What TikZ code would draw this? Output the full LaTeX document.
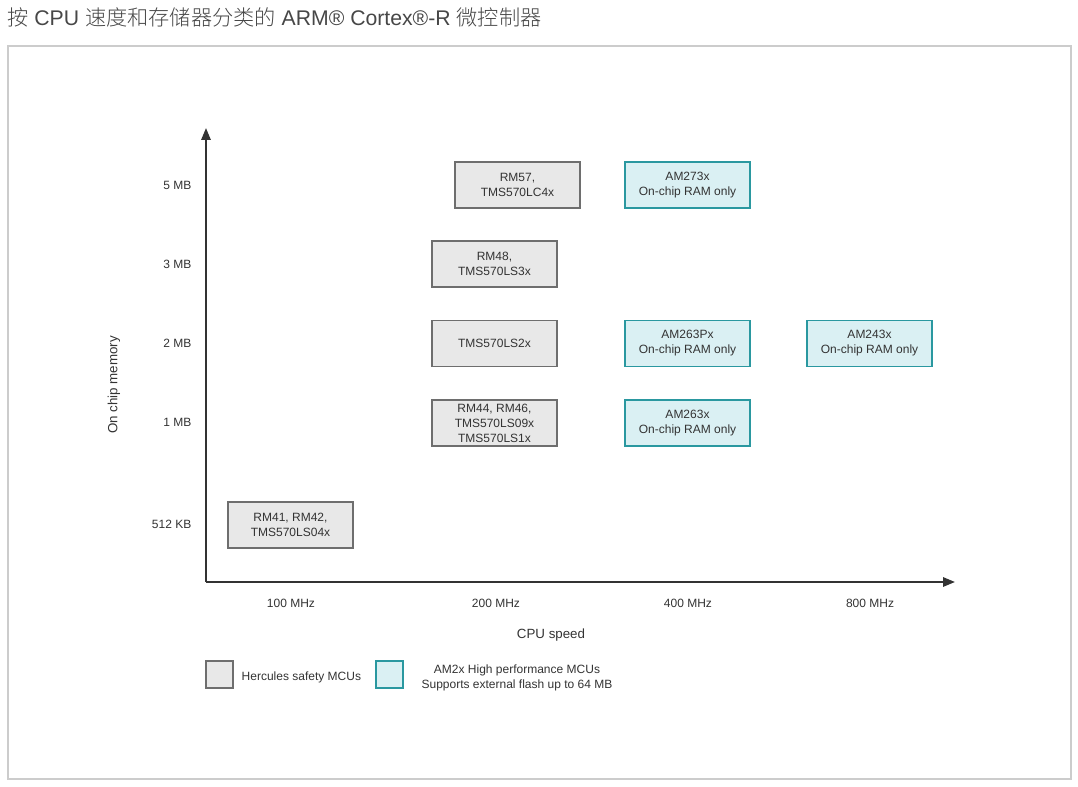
\documentclass[tikz,border=0pt]{standalone}
\usepackage{fontspec}
\setmainfont{Liberation Sans}
\newfontfamily\cjk{Noto Sans CJK SC Light}
\usetikzlibrary{arrows.meta}
\definecolor{txt}{HTML}{333333}
\definecolor{grayfill}{HTML}{E8E8E8}
\definecolor{grayline}{HTML}{6E6E6E}
\definecolor{tealfill}{HTML}{DAF0F3}
\definecolor{tealline}{HTML}{2A98A0}
\definecolor{frame}{HTML}{CCCCCC}
\tikzset{
  herc/.style={draw=grayline, fill=grayfill, line width=1pt, minimum width=125*0.75pt, minimum height=46*0.75pt, inner sep=0pt, align=center, font=\fontsize{9}{11.25}\selectfont, text=txt},
  amx/.style={herc, draw=tealline, fill=tealfill},
  axlab/.style={font=\fontsize{9}{11}\selectfont, text=txt},
  axis/.style={draw=txt, line width=1.5pt, -{Triangle[length=9pt,width=7pt]}},
}
\begin{document}
\begin{tikzpicture}[x=0.75pt,y=-0.75pt]
\useasboundingbox (0,0) rectangle (1078,787);
\node[anchor=west, inner sep=0pt, text=txt!90, font=\fontsize{15.9}{18}\selectfont] (title) at (7,17) {{\cjk 按} CPU {\cjk 速度和存储器分类的} ARM® Cortex®-R {\cjk 微控制器}};
\draw[frame, line width=0.8pt] (8,46) rectangle (1071,779);
\coordinate (O) at (206,582);
\coordinate (ytop) at (206,128);
\coordinate (xend) at (955,582);
\draw[axis] (O) -- (ytop);
\draw[axis] (O) -- (xend);
% boxes
\node[herc] (rm57) at (517.5,185) {RM57,\\TMS570LC4x};
\node[amx] (am273) at (687.5,185) {AM273x\\On-chip RAM only};
\node[herc] (rm48) at (494.5,264) {RM48,\\TMS570LS3x};
\node[herc] (ls2x) at (494.5,343.5) {TMS570LS2x};
\node[amx] (am263p) at (687.5,343.5) {AM263Px\\On-chip RAM only};
\node[amx] (am243) at (869.5,343.5) {AM243x\\On-chip RAM only};
\node[herc] (rm44) at (494.5,423) {RM44, RM46,\\TMS570LS09x\\TMS570LS1x};
\node[amx] (am263) at (687.5,423) {AM263x\\On-chip RAM only};
\node[herc] (rm41) at (290.5,525) {RM41, RM42,\\TMS570LS04x};
% y labels
\node[axlab, anchor=east] (y5) at (196,185) {5 MB};
\node[axlab, anchor=east] (y3) at (196,264) {3 MB};
\node[axlab, anchor=east] (y2) at (196,343.5) {2 MB};
\node[axlab, anchor=east] (y1) at (196,422.5) {1 MB};
\node[axlab, anchor=east] (y512) at (196,524.5) {512 KB};
% x labels
\node[axlab] (x100) at (291,603.5) {100 MHz};
\node[axlab] (x200) at (496,603.5) {200 MHz};
\node[axlab] (x400) at (688,603.5) {400 MHz};
\node[axlab] (x800) at (870,603.5) {800 MHz};
\node[axlab, font=\fontsize{10}{12}\selectfont] (xt) at (551,635) {CPU speed};
\node[axlab, font=\fontsize{10}{12}\selectfont, rotate=90] (yt) at (114,385) {On chip memory};
% legend
\node[herc, minimum width=27*0.75pt, minimum height=27*0.75pt] (lg1) at (219.5,674.5) {};
\node[axlab, anchor=west] (lg1t) at (237,677.5) {Hercules safety MCUs};
\node[amx, minimum width=27*0.75pt, minimum height=27*0.75pt] (lg2) at (389.5,674.5) {};
\node[axlab, align=center, font=\fontsize{9}{11.25}\selectfont] (lg2t) at (517,677.5) {AM2x High performance MCUs\\Supports external flash up to 64 MB};
\end{tikzpicture}
\end{document}
